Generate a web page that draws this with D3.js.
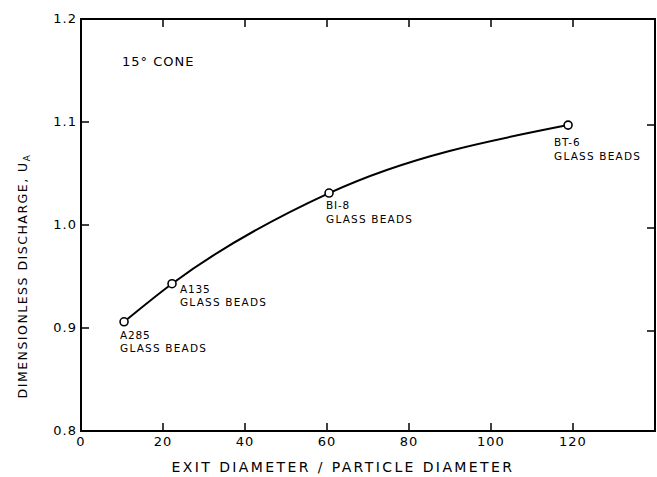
<!DOCTYPE html>
<html><head><meta charset="utf-8">
<script src="https://cdn.jsdelivr.net/npm/d3@7/dist/d3.min.js"></script>
<style>
body{margin:0;background:#fff;}
text{font-family:"DejaVu Sans",sans-serif;fill:#000;}
</style></head>
<body><svg id="c" width="657" height="477"></svg>
<script>
const xVals = [10.5, 22.2, 60.5, 118.8];
const yVals = [0.906, 0.943, 1.031, 1.097];
const pointNames = ["A285", "A135", "BI-8", "BT-6"];
const pointSub = ["GLASS BEADS", "GLASS BEADS", "GLASS BEADS", "GLASS BEADS"];
const xTicks = [0, 20, 40, 60, 80, 100, 120];
const yTicks = [0.8, 0.9, 1.0, 1.1, 1.2];

const svg = d3.select("#c");
const L = 81, R = 655, T = 19, B = 431;
const x = d3.scaleLinear().domain([0, 140]).range([L, R]);
const y = d3.scaleLinear().domain([0.8, 1.2]).range([B, T]);

// frame
svg.append("rect").attr("x", L).attr("y", T).attr("width", R - L).attr("height", B - T)
  .attr("fill", "none").attr("stroke", "#000").attr("stroke-width", 2);

const inner = xTicks.filter(d => d > 0);
const innerY = yTicks.filter(d => d > 0.8 && d < 1.2);
const tk = 8;
// ticks inward
svg.append("g").selectAll("line").data(inner).join("line")
  .attr("x1", d => x(d)).attr("x2", d => x(d)).attr("y1", B).attr("y2", B - tk)
  .attr("stroke", "#000").attr("stroke-width", 1.5);
svg.append("g").selectAll("line").data(inner).join("line")
  .attr("x1", d => x(d)).attr("x2", d => x(d)).attr("y1", T).attr("y2", T + tk)
  .attr("stroke", "#000").attr("stroke-width", 1.5);
svg.append("g").selectAll("line").data(innerY).join("line")
  .attr("x1", L).attr("x2", L + tk).attr("y1", d => y(d)).attr("y2", d => y(d))
  .attr("stroke", "#000").attr("stroke-width", 1.5);
svg.append("g").selectAll("line").data(innerY).join("line")
  .attr("x1", R).attr("x2", R - tk).attr("y1", d => y(d) + 3).attr("y2", d => y(d) + 3)
  .attr("stroke", "#000").attr("stroke-width", 1.5);

// tick labels
svg.append("g").selectAll("text").data(xTicks).join("text")
  .attr("x", d => x(d)).attr("y", B + 15).attr("text-anchor", "middle")
  .attr("font-size", 13).attr("letter-spacing", 1).text(d => d);
svg.append("g").selectAll("text").data(yTicks).join("text")
  .attr("x", L - 4).attr("y", d => y(d) + 4).attr("text-anchor", "end")
  .attr("font-size", 13).attr("letter-spacing", 1).text(d => d.toFixed(1));

// axis titles
svg.append("text").attr("x", 343).attr("y", 472).attr("text-anchor", "middle")
  .attr("font-size", 14).attr("letter-spacing", 2.4).text("EXIT DIAMETER / PARTICLE DIAMETER");
const yt = svg.append("text").attr("transform", "translate(27,276) rotate(-90)")
  .attr("text-anchor", "middle").attr("font-size", 12.5).attr("letter-spacing", 1.5);
yt.append("tspan").text("DIMENSIONLESS DISCHARGE,  U");
yt.append("tspan").attr("font-size", 9).attr("dy", 3).text("A");

svg.append("text").attr("x", 122).attr("y", 66).attr("font-size", 13).attr("letter-spacing", 1).text("15° CONE");

// curve
const pts = xVals.map((d, i) => [d, yVals[i]]);
svg.append("path").datum(pts)
  .attr("d", d3.line().x(d => x(d[0])).y(d => y(d[1])).curve(d3.curveMonotoneX))
  .attr("fill", "none").attr("stroke", "#000").attr("stroke-width", 2);
svg.append("g").selectAll("circle").data(pts).join("circle")
  .attr("cx", d => x(d[0])).attr("cy", d => y(d[1])).attr("r", 4)
  .attr("fill", "#fff").attr("stroke", "#000").attr("stroke-width", 1.6);

// point labels
const offs = [[-4, 17], [8, 9], [-3, 16], [-14, 21]];
const lab = svg.append("g").selectAll("g").data(pts).join("g")
  .attr("transform", (d, i) => `translate(${x(d[0]) + offs[i][0]},${y(d[1]) + offs[i][1]})`);
lab.append("text").attr("font-size", 10.5).attr("letter-spacing", 0.8).text((d, i) => pointNames[i]);
lab.append("text").attr("y", 13.5).attr("font-size", 10.5).attr("letter-spacing", 1.2).text((d, i) => pointSub[i]);
</script></body></html>
